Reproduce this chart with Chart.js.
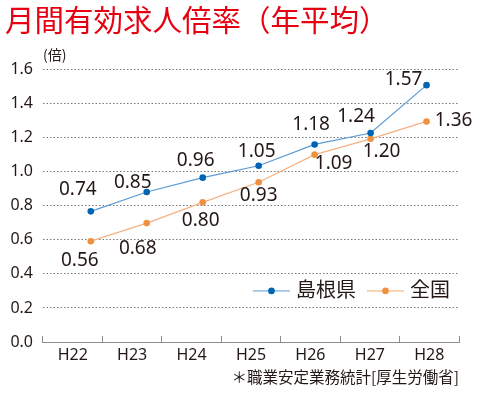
<!DOCTYPE html>
<html lang="ja">
<head>
<meta charset="utf-8">
<title>月間有効求人倍率（年平均）</title>
<script src="https://cdn.jsdelivr.net/npm/chart.js@4.4.1/dist/chart.umd.min.js"></script>
<style>
  html, body { margin: 0; padding: 0; background: #fff; }
  #wrap { width: 480px; height: 399px; }
</style>
</head>
<body>
<div id="wrap"><canvas id="rateChart"></canvas></div>
<script>
// values as plotted in the source picture (labels are the printed figures)
const years = ['H22', 'H23', 'H24', 'H25', 'H26', 'H27', 'H28'];
const shimaneRates = [0.767, 0.881, 0.965, 1.035, 1.160, 1.227, 1.508];
const nationalRates = [0.592, 0.698, 0.820, 0.938, 1.100, 1.193, 1.295];
const shimaneLabels = ['0.74', '0.85', '0.96', '1.05', '1.18', '1.24', '1.57'];
const nationalLabels = ['0.56', '0.68', '0.80', '0.93', '1.09', '1.20', '1.36'];
const yTickLabels = ['0.0', '0.2', '0.4', '0.6', '0.8', '1.0', '1.2', '1.4', '1.6'];
const seriesNames = ['島根県', '全国'];

const TEXT = '#231815';
const CJK = '"Noto Sans CJK JP", sans-serif';
const LATIN = '"Noto Sans", "Noto Sans CJK JP", sans-serif';

// where each printed figure sits relative to its point [dx, dy]
const labelOffsets = [
  [[-13, -22], [-14, -9], [-7, -17], [-2, -14], [-3.5, -20], [-14.5, -16.5], [-23, -5.7]],
  [[-11, 19.5], [-9, 25], [-2, 18], [0, 13.5], [19, 8.5], [11, 12.5], [27, -1]],
];

const valueLabels = {
  id: 'valueLabels',
  afterDatasetsDraw(chart) {
    const ctx = chart.ctx;
    ctx.save();
    ctx.font = '19px ' + LATIN;
    ctx.fillStyle = TEXT;
    ctx.textAlign = 'center';
    ctx.textBaseline = 'middle';
    chart.data.datasets.forEach((ds, di) => {
      chart.getDatasetMeta(di).data.forEach((pt, i) => {
        const [dx, dy] = labelOffsets[di][i];
        ctx.fillText(ds.valueLabels[i], pt.x + dx, pt.y + dy);
      });
    });
    ctx.restore();
  },
};

// legend inside the plot: short line with a dot, then the name
const lineLegend = {
  id: 'lineLegend',
  afterDraw(chart) {
    const { ctx, chartArea } = chart;
    const y = chart.scales.y.getPixelForValue(0.3);
    let x = chartArea.right - 206;
    ctx.save();
    ctx.font = '20px ' + CJK;
    ctx.textBaseline = 'middle';
    chart.data.datasets.forEach(ds => {
      ctx.strokeStyle = ds.legendLine;
      ctx.lineWidth = 1.6;
      ctx.beginPath();
      ctx.moveTo(x, y);
      ctx.lineTo(x + 37, y);
      ctx.stroke();
      ctx.fillStyle = ds.pointBackgroundColor;
      ctx.beginPath();
      ctx.arc(x + 18.5, y, 3.3, 0, Math.PI * 2);
      ctx.fill();
      ctx.fillStyle = TEXT;
      ctx.fillText(ds.label, x + 43, y - 2);
      x += 43 + ctx.measureText(ds.label).width + 11;
    });
    ctx.restore();
  },
};

const toPoints = vals => vals.map((v, i) => ({ x: i, y: v }));

new Chart(document.getElementById('rateChart'), {
  type: 'line',
  data: {
    labels: years,
    datasets: [
      {
        label: seriesNames[0],
        data: toPoints(shimaneRates),
        valueLabels: shimaneLabels,
        xAxisID: 'x2',
        borderColor: '#5b9bd5',
        borderWidth: 1.2,
        pointBackgroundColor: '#0064b4',
        pointBorderWidth: 0,
        pointRadius: 3.3,
        legendLine: '#9fc5e8',
        tension: 0,
      },
      {
        label: seriesNames[1],
        data: toPoints(nationalRates),
        valueLabels: nationalLabels,
        xAxisID: 'x2',
        borderColor: '#f4b183',
        borderWidth: 1.2,
        pointBackgroundColor: '#f0913f',
        pointBorderWidth: 0,
        pointRadius: 3.3,
        legendLine: '#f8cfae',
        tension: 0,
      },
    ],
  },
  options: {
    responsive: true,
    maintainAspectRatio: false,
    animation: false,
    layout: { padding: { left: 5, right: 21, top: 0, bottom: 6 } },
    plugins: {
      legend: { display: false },
      tooltip: { enabled: false },
      title: {
        display: true,
        text: '月間有効求人倍率（年平均）',
        align: 'start',
        color: '#e60012',
        font: { size: 29.5, family: CJK, weight: 'normal', lineHeight: 1 },
        padding: { top: 5.5, bottom: 1 },
      },
      subtitle: {
        display: true,
        text: '(倍)',
        align: 'start',
        fullSize: false,
        color: TEXT,
        font: { size: 14, family: CJK, lineHeight: 1 },
        padding: { top: 11.5, bottom: 8 },
      },
    },
    scales: {
      x: {
        type: 'category',
        offset: true,
        afterFit(scale) { scale.height = 51; },
        grid: { offset: true, drawOnChartArea: false, drawTicks: true, tickLength: -6, color: '#8c8c8c' },
        border: { display: true, color: '#8c8c8c', width: 1 },
        ticks: { color: TEXT, padding: 10, font: { size: 16, family: LATIN } },
        title: {
          display: true,
          text: '＊職業安定業務統計[厚生労働省]',
          align: 'end',
          color: TEXT,
          font: { size: 15.5, family: CJK },
          padding: { top: 3, bottom: 6.5 },
        },
      },
      x2: {
        type: 'linear',
        display: false,
        min: -0.854,
        max: 6.58,
      },
      y: {
        min: 0,
        max: 1.6,
        afterFit(scale) { scale.width = 38; },
        grid: { color: '#7a7a7a', lineWidth: 1, drawTicks: false },
        border: { display: false, dash: [1.5, 2] },
        ticks: {
          stepSize: 0.2,
          padding: 10,
          color: TEXT,
          font: { size: 16, family: LATIN },
          callback: (v, i) => yTickLabels[i],
        },
      },
    },
  },
  plugins: [valueLabels, lineLegend],
});
</script>
</body>
</html>
